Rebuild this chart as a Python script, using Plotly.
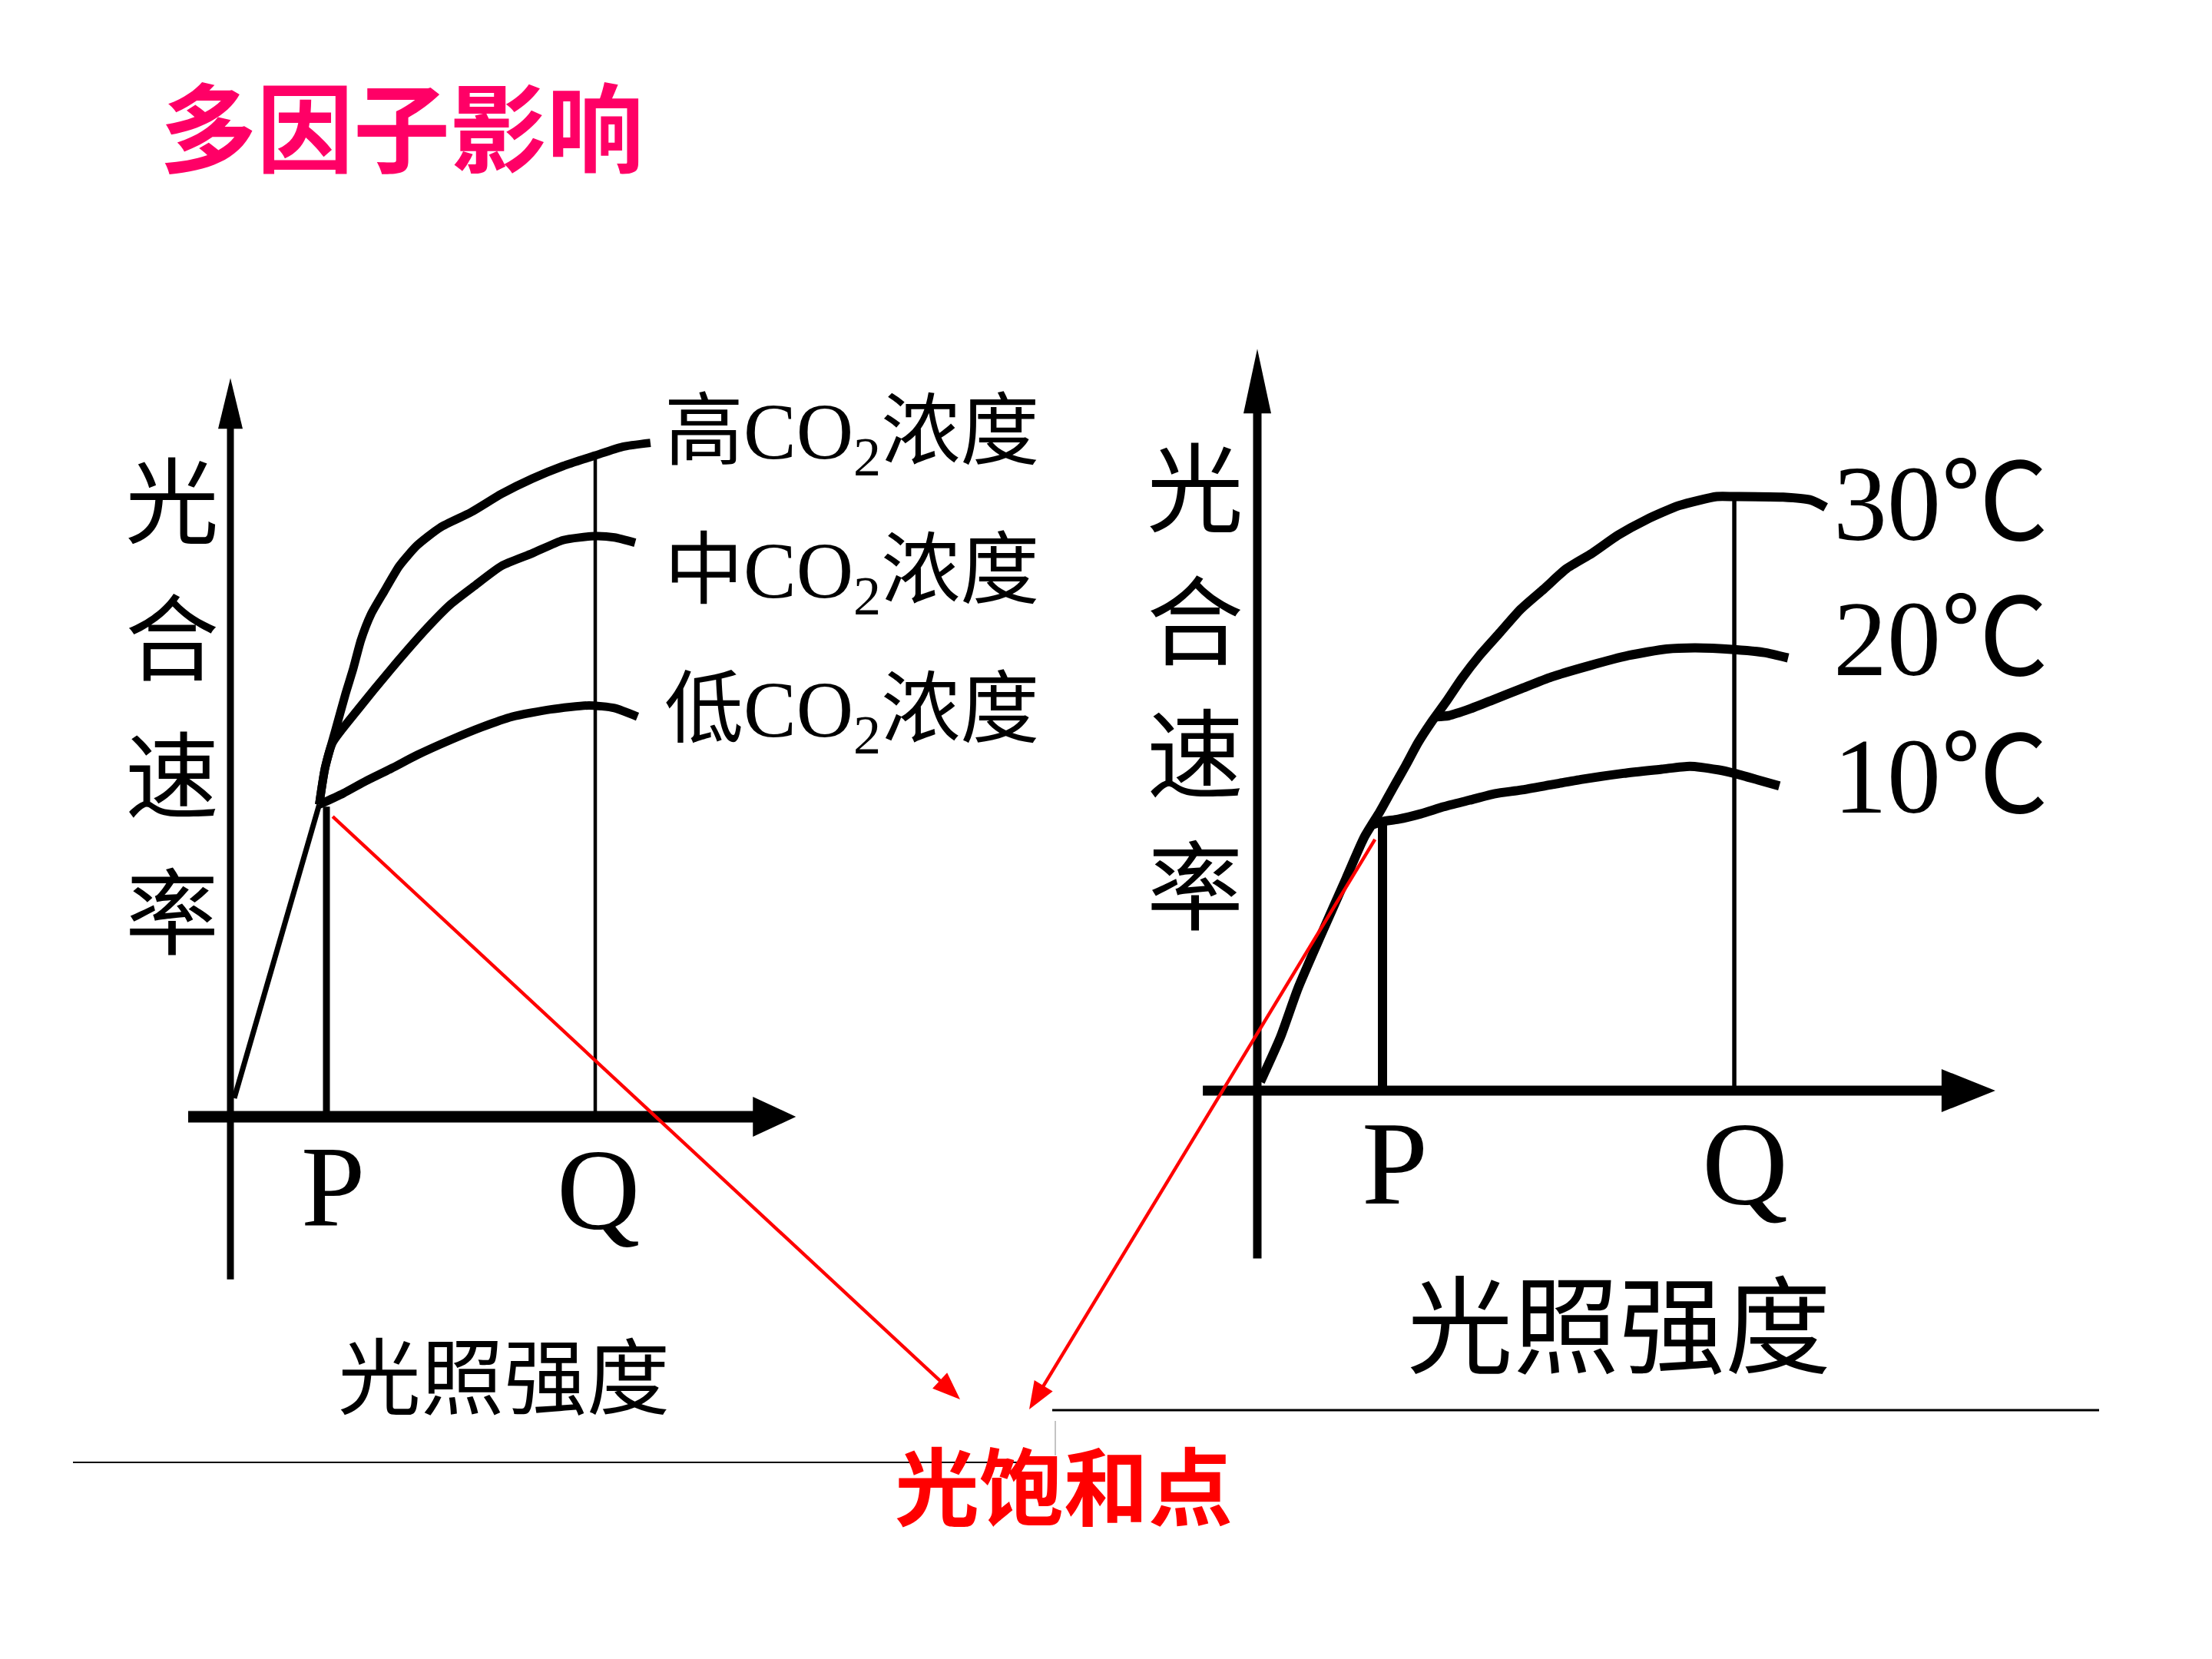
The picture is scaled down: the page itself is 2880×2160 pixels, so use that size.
import plotly.graph_objects as go

# ======================= DATA =======================
# Left panel: light intensity vs photosynthetic rate at three CO2 levels
co2_linear_light = [0.08, 1.85]
co2_linear_rate = [0.28, 4.72]
co2_high_light = [1.85, 1.97, 2.19, 2.40, 2.56, 2.72, 2.93, 3.20, 3.52, 3.89, 4.37, 5.01,
                  5.65, 6.29, 6.93, 7.60, 8.16, 8.75]
co2_high_rate = [4.72, 5.27, 5.85, 6.40, 6.78, 7.21, 7.60, 7.94, 8.33, 8.64, 8.91, 9.14,
                 9.42, 9.65, 9.84, 10.00, 10.13, 10.19]
co2_mid_light = [1.85, 1.97, 2.13, 2.67, 3.36, 4.11, 4.59, 5.07, 5.65, 6.29, 6.93, 7.60, 8.00, 8.43]
co2_mid_rate = [4.72, 5.27, 5.66, 6.17, 6.78, 7.40, 7.75, 8.02, 8.33, 8.52, 8.72, 8.78, 8.76, 8.68]
co2_low_light = [1.85, 2.35, 2.83, 3.36, 3.89, 4.59, 5.23, 5.87, 6.67, 7.47, 8.00, 8.48]
co2_low_rate = [4.72, 4.89, 5.08, 5.27, 5.47, 5.70, 5.89, 6.05, 6.16, 6.22, 6.18, 6.05]
co2_labels = ["高CO<sub>2</sub>浓度", "中CO<sub>2</sub>浓度", "低CO<sub>2</sub>浓度"]
co2_P, co2_P_rate = 2.0, 4.69
co2_Q, co2_Q_rate = 7.6, 10.0

# Right panel: light intensity vs photosynthetic rate at three temperatures
t30_light = [0.05, 0.37, 0.65, 1.02, 1.42, 1.71, 1.96, 2.16, 2.37, 2.57, 2.78, 3.02, 3.27,
             3.55, 3.88, 4.21, 4.58, 4.94, 5.35, 5.76, 6.21, 6.74, 7.34, 7.62, 8.40, 8.85, 9.08]
t30_rate = [0.15, 0.90, 1.72, 2.62, 3.57, 4.26, 4.69, 5.07, 5.46, 5.85, 6.19, 6.54, 6.93,
            7.31, 7.70, 8.09, 8.43, 8.77, 9.03, 9.33, 9.59, 9.83, 9.98, 9.98, 9.97, 9.92, 9.80]
t20_light = [2.85, 3.06, 3.39, 3.80, 4.21, 4.70, 5.31, 5.93, 6.54, 7.00, 7.62, 8.10, 8.48]
t20_rate = [6.28, 6.30, 6.41, 6.58, 6.75, 6.95, 7.14, 7.31, 7.42, 7.44, 7.41, 7.36, 7.27]
t10_light = [1.85, 2.00, 2.25, 2.61, 2.98, 3.39, 3.80, 4.21, 4.70, 5.19, 5.85, 6.46, 6.91,
             7.36, 7.62, 8.00, 8.34]
t10_rate = [4.47, 4.52, 4.56, 4.65, 4.77, 4.88, 4.99, 5.05, 5.14, 5.23, 5.33, 5.40, 5.45,
            5.39, 5.33, 5.22, 5.12]
temp_labels = ["30℃", "20℃", "10℃"]
temp_P, temp_P_rate = 2.0, 4.48
temp_Q, temp_Q_rate = 7.62, 9.98

axis_title_y = ["光", "合", "速", "率"]
axis_title_x = "光照强度"
title_text = "多因子影响"
note_text = "光饱和点"

# ======================= LAYOUT / STYLE =======================
W, H = 2880, 2160
PANELS = {
    "left": dict(xa="x", ya="y", origin=(300, 1454), scale=(62.5, 86.1),
                 xrange=(-3, 14), yrange=(-6, 13),
                 xaxis_ext=(-0.88, 11.78), yaxis_ext=(-2.46, 11.17),
                 xw=15, yw=9, xhead=(56, 52), yhead=(66, 32)),
    "right": dict(xa="x2", ya="y2", origin=(1637, 1420), scale=(81.5, 77.5),
                  xrange=(-3, 13.2), yrange=(-5, 13.5),
                  xaxis_ext=(-0.87, 11.79), yaxis_ext=(-2.82, 12.46),
                  xw=13, yw=11, xhead=(70, 56), yhead=(84, 36)),
}
BLACK = "#000000"
RED = "#FF0000"


def domain(p):
    ox, oy = p["origin"]
    sx, sy = p["scale"]
    xd = [(ox + p["xrange"][0] * sx) / W, (ox + p["xrange"][1] * sx) / W]
    yd = [1 - (oy - p["yrange"][0] * sy) / H, 1 - (oy - p["yrange"][1] * sy) / H]
    return xd, yd


def to_px(p, x, y):
    ox, oy = p["origin"]
    sx, sy = p["scale"]
    return ox + x * sx, oy - y * sy


fig = go.Figure()


def line(xa, ya, xs, ys, width, spline=True, color=BLACK):
    fig.add_trace(go.Scatter(
        x=xs, y=ys, mode="lines", xaxis=xa, yaxis=ya,
        line=dict(color=color, width=width, shape="spline" if spline else "linear",
                  smoothing=0.6),
        hoverinfo="skip", showlegend=False))


def poly(xa, ya, xs, ys, color):
    fig.add_trace(go.Scatter(
        x=xs, y=ys, mode="lines", fill="toself", fillcolor=color,
        line=dict(width=0, color=color), xaxis=xa, yaxis=ya,
        hoverinfo="skip", showlegend=False))


def axes_with_arrows(p):
    sx, sy = p["scale"]
    x0, x1 = p["xaxis_ext"]
    y0, y1 = p["yaxis_ext"]
    L, Wd = p["xhead"]
    line(p["xa"], p["ya"], [x0, x1 - L / sx * 0.5], [0, 0], p["xw"], spline=False)
    poly(p["xa"], p["ya"], [x1, x1 - L / sx, x1 - L / sx, x1],
         [0, Wd / 2 / sy, -Wd / 2 / sy, 0], BLACK)
    L, Wd = p["yhead"]
    line(p["xa"], p["ya"], [0, 0], [y0, y1 - L / sy * 0.5], p["yw"], spline=False)
    poly(p["xa"], p["ya"], [0, -Wd / 2 / sx, Wd / 2 / sx, 0],
         [y1, y1 - L / sy, y1 - L / sy, y1], BLACK)


L_ = PANELS["left"]
R_ = PANELS["right"]

# ---- left panel ----
axes_with_arrows(L_)
line("x", "y", [co2_P, co2_P], [0, co2_P_rate], 9, spline=False)
line("x", "y", [co2_Q, co2_Q], [0, co2_Q_rate], 4.5, spline=False)
line("x", "y", co2_linear_light, co2_linear_rate, 7, spline=False)
line("x", "y", co2_high_light, co2_high_rate, 11)
line("x", "y", co2_mid_light, co2_mid_rate, 11)
line("x", "y", co2_low_light, co2_low_rate, 11)

# ---- right panel ----
axes_with_arrows(R_)
line("x2", "y2", [temp_P, temp_P], [0, temp_P_rate], 12, spline=False)
line("x2", "y2", [temp_Q, temp_Q], [0, temp_Q_rate], 5.5, spline=False)
line("x2", "y2", t30_light, t30_rate, 12)
line("x2", "y2", t20_light, t20_rate, 12)
line("x2", "y2", t10_light, t10_rate, 12)

# ---- red pointer arrows (full-page overlay axes, pixel units) ----
arrow_tails = [(L_, 2.13, 4.54), (R_, 1.88, 4.22)]
arrow_heads_px = [(1250, 1822), (1340, 1835)]
HEAD_LEN, HEAD_W = 36, 28
for (p, tx, ty), (hx, hy) in zip(arrow_tails, arrow_heads_px):
    tpx, tpy = to_px(p, tx, ty)
    dx, dy = hx - tpx, hy - tpy
    n = (dx * dx + dy * dy) ** 0.5
    ux, uy = dx / n, dy / n
    bx, by = hx - ux * HEAD_LEN, hy - uy * HEAD_LEN
    line("x3", "y3", [tpx, bx + ux * 4], [tpy, by + uy * 4], 4.4, spline=False, color=RED)
    poly("x3", "y3",
         [hx, bx - uy * HEAD_W / 2, bx + uy * HEAD_W / 2, hx],
         [hy, by + ux * HEAD_W / 2, by - ux * HEAD_W / 2, hy], RED)

# ---- axes setup ----
common = dict(visible=False, showgrid=False, zeroline=False, fixedrange=True)
for i, p in enumerate([L_, R_]):
    xd, yd = domain(p)
    sfx = "" if i == 0 else "2"
    fig.update_layout(**{
        "xaxis" + sfx: dict(domain=xd, range=list(p["xrange"]), anchor="y" + sfx, **common),
        "yaxis" + sfx: dict(domain=yd, range=list(p["yrange"]), anchor="x" + sfx, **common),
    })
fig.update_layout(
    xaxis3=dict(domain=[0, 1], range=[0, W], anchor="y3", **common),
    yaxis3=dict(domain=[0, 1], range=[H, 0], anchor="x3", **common),
)

SERIF = "Liberation Serif, Noto Sans CJK SC"
CJK = "Noto Sans CJK SC"
ann = []


def text(p, x, y, s, size, xanchor="center", family=SERIF, color=BLACK):
    ann.append(dict(x=x, y=y, xref=p["xa"], yref=p["ya"], text=s, showarrow=False,
                    xanchor=xanchor, yanchor="middle",
                    font=dict(family=family, size=size, color=color)))


# label positions (data units of each panel)
co2_label_x, co2_label_y = 9.0, [10.27, 8.16, 6.06]
temp_label_x, temp_label_y = 9.18, [9.86, 7.59, 5.29]
for s, y in zip(co2_labels, co2_label_y):
    text(L_, co2_label_x, y, s, 103, xanchor="left")
for s, y in zip(temp_labels, temp_label_y):
    text(R_, temp_label_x, y, s, 140, xanchor="left")

text(L_, 2.14, -1.06, "P", 150)
text(L_, 7.66, -1.10, "Q", 150)
text(R_, 2.20, -1.23, "P", 155)
text(R_, 7.79, -1.23, "Q", 155)

ylab_left_x, ylab_left_y = -1.22, [9.40, 7.33, 5.26, 3.19]
ylab_right_x, ylab_right_y = -0.99, [10.22, 7.99, 5.76, 3.53]
for ch, y in zip(axis_title_y, ylab_left_y):
    text(L_, ylab_left_x, y, ch, 122, family=CJK)
for ch, y in zip(axis_title_y, ylab_right_y):
    text(R_, ylab_right_x, y, ch, 126, family=CJK)
text(L_, 5.70, -3.86, axis_title_x, 108, family=CJK)
text(R_, 5.78, -3.83, axis_title_x, 138, family=CJK)

# title
ann.append(dict(x=206 / W, y=1 - 160 / H, xref="paper", yref="paper", text="<b>" + title_text + "</b>",
                showarrow=False, xanchor="left", yanchor="middle",
                font=dict(family=CJK, size=126, color="#FF0066")))
# note
ann.append(dict(x=1385 / W, y=1 - 1930 / H, xref="paper", yref="paper", text="<b>" + note_text + "</b>",
                showarrow=False, xanchor="center", yanchor="middle",
                font=dict(family=CJK, size=110, color=RED)))

# slide separator lines
shapes = [
    dict(type="line", xref="paper", yref="paper", x0=95 / W, x1=1363 / W,
         y0=1 - 1904 / H, y1=1 - 1904 / H, line=dict(color=BLACK, width=2)),
    dict(type="line", xref="paper", yref="paper", x0=1370 / W, x1=2733 / W,
         y0=1 - 1836 / H, y1=1 - 1836 / H, line=dict(color=BLACK, width=3)),
    dict(type="line", xref="paper", yref="paper", x0=1374 / W, x1=1374 / W,
         y0=1 - 1850 / H, y1=1 - 1895 / H, line=dict(color="#888888", width=1)),
]

fig.update_layout(
    width=W, height=H, autosize=False,
    margin=dict(l=0, r=0, t=0, b=0, pad=0),
    paper_bgcolor="white", plot_bgcolor="rgba(0,0,0,0)",
    showlegend=False, annotations=ann, shapes=shapes,
    hovermode=False,
)

fig.write_html("out.html", config={"displayModeBar": False, "staticPlot": True})
